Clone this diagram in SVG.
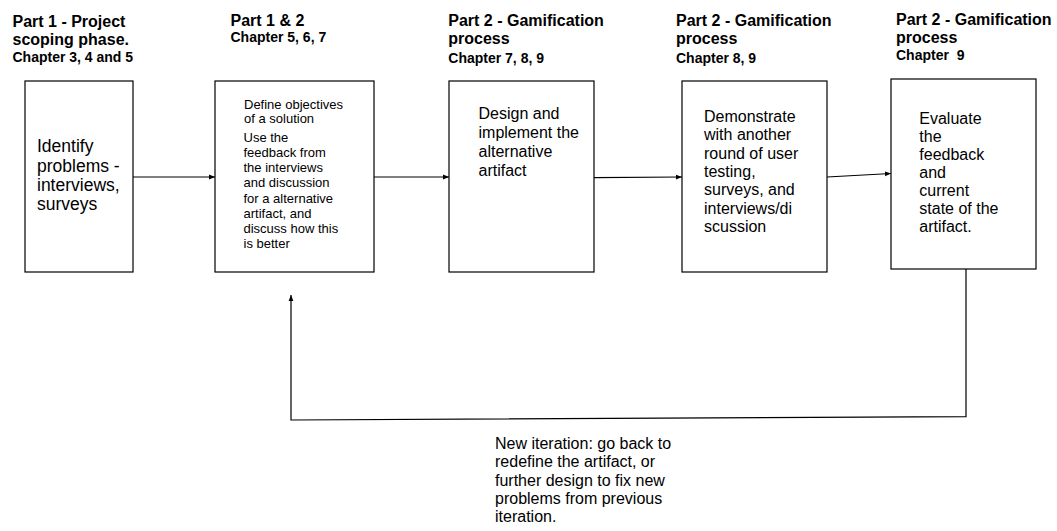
<svg xmlns="http://www.w3.org/2000/svg" width="1057" height="531" viewBox="0 0 1057 531">
<style>
text{font-family:"Liberation Sans",Arial,sans-serif;fill:#000}
.t{font-weight:bold;font-size:16px}
.c{font-weight:bold;font-size:14px}
.b{font-size:16px}
.s{font-size:13px}
.box{fill:#fff;stroke:#000;stroke-width:1.2}
.ln{fill:none;stroke:#000;stroke-width:1.2}
</style>
<defs>
<marker id="ah" viewBox="0 0 10 10" refX="10" refY="5" markerWidth="6" markerHeight="6" markerUnits="userSpaceOnUse" orient="auto">
<path d="M0,1 L10,5 L0,9 z" fill="#000"/>
</marker>
</defs>
<rect width="1057" height="531" fill="#fff"/>
<g id="connectors">
<line class="ln" x1="133" y1="177" x2="215" y2="177" marker-end="url(#ah)"/>
<line class="ln" x1="374" y1="177" x2="449" y2="177" marker-end="url(#ah)"/>
<line class="ln" x1="594" y1="177.7" x2="682" y2="177" marker-end="url(#ah)"/>
<line class="ln" x1="827" y1="177" x2="891" y2="173.5" marker-end="url(#ah)"/>
<polyline class="ln" points="966,269 966,416.7 291,420 291,295" marker-end="url(#ah)"/>
</g>
<g id="node1">
<text class="t" x="12.5" y="26.7">Part 1 - Project</text>
<text class="t" x="12.5" y="45">scoping phase.</text>
<text class="c" x="12.5" y="62.3">Chapter 3, 4 and 5</text>
<rect class="box" x="25" y="81" width="108" height="191"/>
<text font-size="17.5" x="37" y="152.3">Identify</text>
<text font-size="17.5" x="37" y="171.6">problems -</text>
<text font-size="17.5" x="37" y="190.9">interviews,</text>
<text font-size="17.5" x="37" y="210.2">surveys</text>
</g>
<g id="node2">
<text class="t" x="230.5" y="25.5">Part 1 &amp; 2</text>
<text class="c" x="230.5" y="42">Chapter 5, 6, 7</text>
<rect class="box" x="215" y="81" width="159" height="191"/>
<text class="s" x="244" y="109">Define objectives</text>
<text class="s" x="244" y="123.3">of a solution</text>
<text class="s" x="243.5" y="141.7">Use the</text>
<text class="s" x="243.5" y="156.9">feedback from</text>
<text class="s" x="243.5" y="172.1">the interviews</text>
<text class="s" x="243.5" y="187.3">and discussion</text>
<text class="s" x="243.5" y="202.5">for a alternative</text>
<text class="s" x="243.5" y="217.7">artifact, and</text>
<text class="s" x="243.5" y="232.9">discuss how this</text>
<text class="s" x="243.5" y="248.1">is better</text>
</g>
<g id="node3">
<text class="t" x="448.3" y="26">Part 2 - Gamification</text>
<text class="t" x="448.3" y="44.3">process</text>
<text class="c" x="448.3" y="62.7">Chapter 7, 8, 9</text>
<rect class="box" x="449" y="81" width="145" height="191"/>
<text class="b" x="478.5" y="119.3">Design and</text>
<text class="b" x="478.5" y="138.2">implement the</text>
<text class="b" x="478.5" y="157.1">alternative</text>
<text class="b" x="478.5" y="176">artifact</text>
</g>
<g id="node4">
<text class="t" x="676" y="26">Part 2 - Gamification</text>
<text class="t" x="676" y="44.3">process</text>
<text class="c" x="676" y="62.7">Chapter 8, 9</text>
<rect class="box" x="682" y="81" width="145" height="191"/>
<text class="b" x="704" y="121.7">Demonstrate</text>
<text class="b" x="704" y="140.1">with another</text>
<text class="b" x="704" y="158.5">round of user</text>
<text class="b" x="704" y="176.9">testing,</text>
<text class="b" x="704" y="195.3">surveys, and</text>
<text class="b" x="704" y="213.7">interviews/di</text>
<text class="b" x="704" y="232.1">scussion</text>
</g>
<g id="node5">
<text class="t" x="896" y="24.5">Part 2 - Gamification</text>
<text class="t" x="896" y="42.5">process</text>
<text class="c" x="896" y="60" xml:space="preserve">Chapter  9</text>
<rect class="box" x="891" y="79" width="145" height="190"/>
<text class="b" x="919.3" y="124.3">Evaluate</text>
<text class="b" x="919.3" y="142.3">the</text>
<text class="b" x="919.3" y="160.3">feedback</text>
<text class="b" x="919.3" y="178.3">and</text>
<text class="b" x="919.3" y="196.3">current</text>
<text class="b" x="919.3" y="214.3">state of the</text>
<text class="b" x="919.3" y="232.3">artifact.</text>
</g>
<g id="loop-label">
<text class="b" x="495" y="449">New iteration: go back to</text>
<text class="b" x="495" y="467.3">redefine the artifact, or</text>
<text class="b" x="495" y="485.6">further design to fix new</text>
<text class="b" x="495" y="503.9">problems from previous</text>
<text class="b" x="495" y="522.2">iteration.</text>
</g>
</svg>
